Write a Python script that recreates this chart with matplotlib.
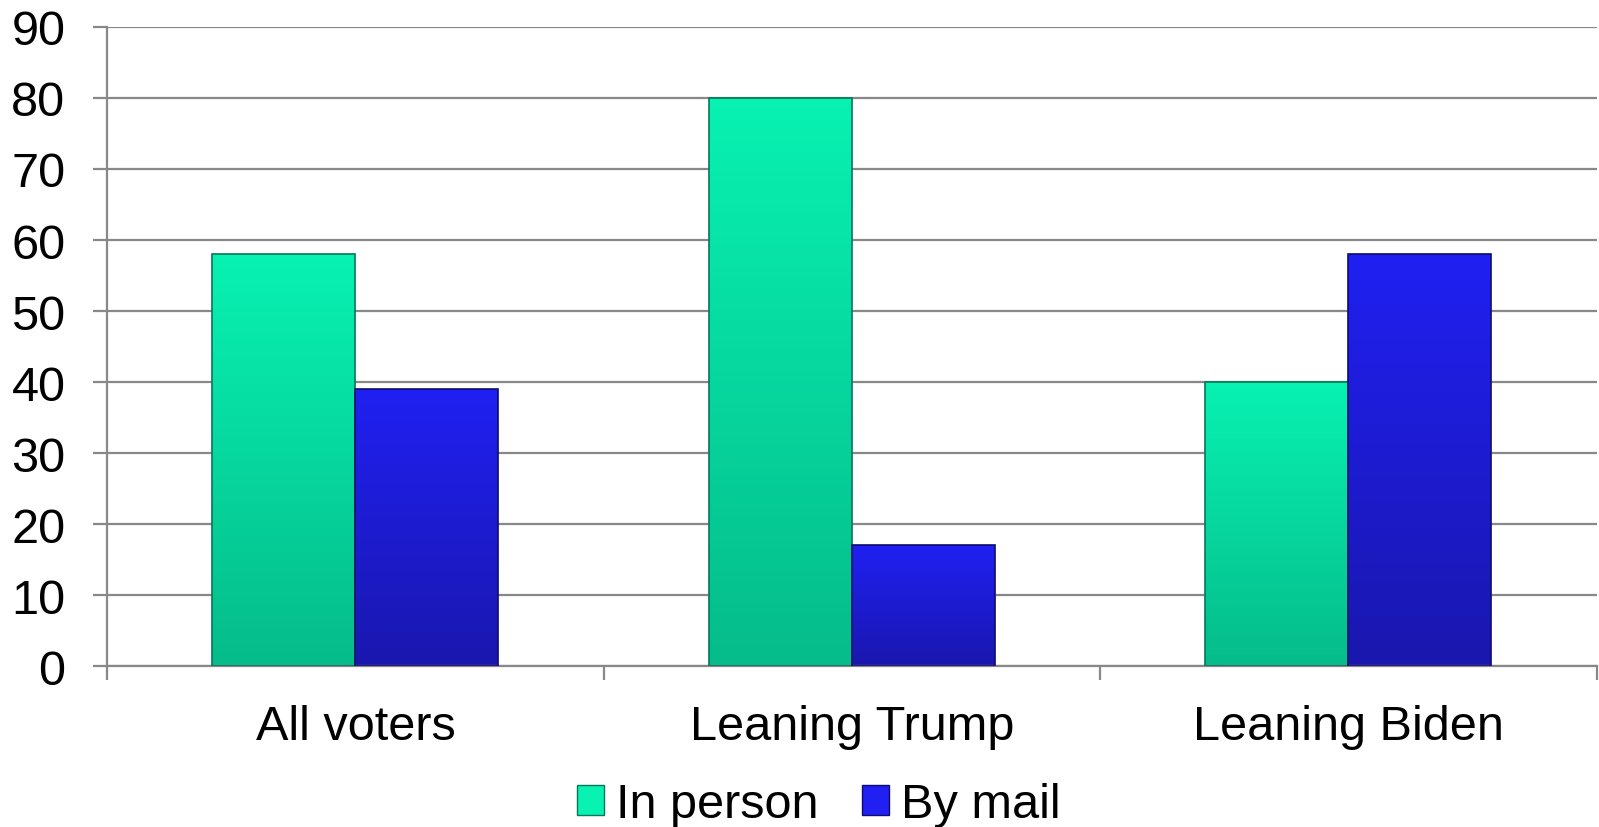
import numpy as np
import matplotlib
matplotlib.use('Agg')
import matplotlib.pyplot as plt
from matplotlib.colors import LinearSegmentedColormap
from matplotlib.patches import Patch

plt.rcParams['font.family'] = ['Liberation Sans', 'DejaVu Sans']

categories = ['All voters', 'Leaning Trump', 'Leaning Biden']
in_person = [58, 80, 40]
by_mail = [39, 17, 58]
series_names = ['In person', 'By mail']
yticks = list(range(0, 100, 10))

# top colour, bottom colour, edge colour
styles = [('#08F2B2', '#05BC8A', '#04785A'),
          ('#2020F2', '#1A17AE', '#0E0C70')]

fig = plt.figure(figsize=(15.99, 8.28), dpi=100)
ax = fig.add_axes([0.067, 0.1944, 0.9315, 0.7718])

x = np.arange(len(categories))
w = 0.288
grad = np.linspace(0, 1, 256).reshape(-1, 1)

for i, (vals, name) in enumerate(zip([in_person, by_mail], series_names)):
    top, bot, edge = styles[i]
    cmap = LinearSegmentedColormap.from_list(name, [bot, top])
    bars = ax.bar(x + (i - 0.5) * w, vals, w, color='none', edgecolor=edge,
                  linewidth=1.2, zorder=3, label=name)
    for b in bars:
        x0, y0 = b.get_x(), b.get_y()
        im = ax.imshow(grad, cmap=cmap, origin='lower', aspect='auto',
                       extent=(x0, x0 + b.get_width(), y0, y0 + b.get_height()),
                       zorder=2.5)
        im.set_clip_path(b)

ax.set_xlim(-0.5, len(categories) - 0.5)
ax.set_ylim(0, 90)
ax.set_yticks(yticks)
ax.set_yticklabels([str(t) for t in yticks], fontsize=35)
ax.yaxis.grid(True, color='#888888', linewidth=1.6, zorder=1)
ax.set_axisbelow(True)

ax.set_xticks(np.arange(len(categories) + 1) - 0.5)
ax.set_xticklabels([])
ax.set_xticks(x, minor=True)
ax.set_xticklabels(categories, minor=True, fontsize=35)
ax.tick_params(axis='x', which='major', length=10, width=1.6, color='#888888', direction='out')
ax.tick_params(axis='x', which='minor', length=0, pad=27)
ax.tick_params(axis='y', length=10, width=1.6, color='#888888', pad=20)

for s in ['top', 'right']:
    ax.spines[s].set_visible(False)
for s in ['left', 'bottom']:
    ax.spines[s].set_color('#888888')
    ax.spines[s].set_linewidth(1.6)

handles = [Patch(facecolor=styles[i][0], edgecolor=styles[i][2], label=series_names[i])
           for i in range(2)]
fig.legend(handles=handles, loc='center', bbox_to_anchor=(0.512, 0.027), ncol=2,
           frameon=False, fontsize=35, handlelength=0.55, handleheight=0.55,
           handletextpad=0.25, columnspacing=0.9)

fig.savefig('out.png', dpi=100)
